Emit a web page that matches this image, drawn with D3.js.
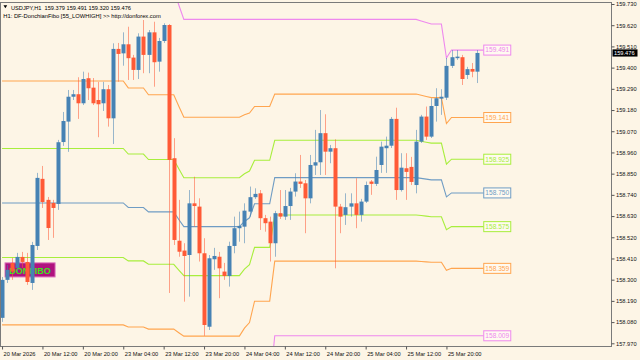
<!DOCTYPE html>
<html><head><meta charset="utf-8">
<script src="https://cdn.jsdelivr.net/npm/d3@7"></script>
<style>html,body{margin:0;padding:0;background:#fdf5e6;} svg{display:block;} text{font-family:"Liberation Sans",Arial,sans-serif;}</style>
</head><body><svg id="c" width="640" height="360"></svg>
<script>
// ---- DATA (USDJPY H1, bars 20 Mar 04:00 .. 26 Mar 02:00) ----
const symbol = "USDJPY,H1";
const indicatorTitle = "H1: DF-DonchianFibo [55_LOWHIGH] >> http://donforex.com";
const badgeText = "DONFIBO";
const opens = [158.102,158.299,158.387,158.361,158.418,158.392,158.283,158.475,158.823,158.714,
158.698,158.693,159.014,159.120,159.249,159.262,159.215,159.345,159.296,159.232,
159.215,159.288,159.137,159.497,159.474,159.521,159.452,159.388,159.561,159.466,
159.583,159.431,159.538,159.621,158.930,158.502,158.451,158.428,158.696,158.679,
158.437,158.056,158.406,158.419,158.342,158.319,158.475,158.567,158.575,158.653,
158.728,158.748,158.619,158.601,158.489,158.645,158.627,158.682,158.757,158.809,
158.800,158.722,158.892,158.909,159.060,158.964,158.982,158.679,158.636,158.679,
158.696,158.636,158.705,158.809,158.797,158.895,158.982,158.995,159.134,158.765,
158.878,158.885,158.791,159.016,159.146,159.042,159.201,159.239,159.244,159.409,
159.449,159.454,159.362,159.393,159.379];
const highs = [158.314,158.376,158.413,158.439,158.444,158.439,158.496,158.854,158.890,158.729,
158.714,159.025,159.170,159.284,159.284,159.350,159.379,159.374,159.346,159.326,
159.326,159.310,159.526,159.528,159.583,159.612,159.466,159.578,159.647,159.595,
159.638,159.554,159.630,159.626,159.034,158.714,158.489,158.765,158.834,158.722,
158.515,158.428,158.465,158.444,158.387,158.497,158.627,158.653,158.696,158.783,
158.774,158.765,158.636,158.627,158.657,158.765,158.765,158.776,158.852,158.947,
158.817,158.947,159.077,159.180,159.158,158.999,159.028,158.693,158.748,158.748,
158.826,158.719,158.809,158.817,158.938,159.016,159.042,159.144,159.192,158.956,
158.956,158.937,159.077,159.155,159.198,159.241,159.293,159.288,159.450,159.491,
159.491,159.466,159.404,159.424,159.491];
const lows = [158.081,158.283,158.299,158.340,158.361,158.273,158.247,158.454,158.672,158.506,
158.517,158.662,158.994,158.963,159.232,159.134,159.206,159.232,159.206,159.039,
159.175,159.094,159.004,159.327,159.410,159.336,159.336,159.341,159.371,159.371,
159.301,159.379,159.528,158.231,158.480,158.419,158.186,158.212,158.575,158.394,
158.009,158.039,158.351,158.204,158.299,158.264,158.437,158.497,158.489,158.627,
158.719,158.558,158.549,158.394,158.419,158.615,158.610,158.610,158.731,158.776,
158.541,158.696,158.843,158.843,158.843,158.904,158.359,158.541,158.584,158.627,
158.567,158.601,158.698,158.740,158.786,158.854,158.854,158.983,158.714,158.757,
158.714,158.791,158.748,159.009,159.025,159.035,159.120,159.155,159.232,159.398,
159.440,159.310,159.341,159.350,159.320];
const closes = [158.299,158.351,158.342,158.418,158.392,158.288,158.480,158.828,158.703,158.568,
158.672,159.013,159.123,159.249,159.262,159.215,159.341,159.293,159.215,159.210,
159.288,159.137,159.497,159.471,159.521,159.449,159.388,159.561,159.466,159.583,
159.428,159.538,159.621,158.921,158.506,158.445,158.423,158.696,158.682,158.437,
158.065,158.411,158.423,158.359,158.319,158.475,158.567,158.579,158.658,158.728,
158.745,158.619,158.593,158.489,158.645,158.627,158.682,158.757,158.809,158.797,
158.722,158.895,158.909,159.060,158.964,158.982,158.679,158.627,158.676,158.696,
158.636,158.705,158.791,158.797,158.869,158.990,158.995,159.134,158.765,158.881,
158.859,158.807,159.016,159.146,159.042,159.201,159.241,159.249,159.409,159.454,
159.457,159.341,159.392,159.379,159.476];
// Donchian(55) channel high / low per bar, read from the drawn levels
const donHigh = [159.896,159.896,159.896,159.896,159.896,159.896,159.896,159.896,159.896,159.896,
159.896,159.896,159.896,159.896,159.896,159.896,159.896,159.896,159.896,159.896,
159.896,159.896,159.896,159.896,159.896,159.849,159.849,159.849,159.849,159.803,
159.803,159.803,159.803,159.803,159.803,159.725,159.650,159.650,159.650,159.650,
159.650,159.650,159.650,159.650,159.650,159.650,159.650,159.650,159.650,159.650,
159.650,159.650,159.650,159.650,159.650,159.650,159.650,159.650,159.650,159.650,
159.650,159.650,159.650,159.650,159.650,159.650,159.650,159.650,159.650,159.650,
159.650,159.650,159.650,159.650,159.650,159.650,159.650,159.650,159.650,159.650,
159.650,159.650,159.650,159.642,159.634,159.626,159.626,159.626,159.450,159.491,
159.491,159.491,159.491,159.491,159.491];
const donLow = [157.500,157.500,157.500,157.500,157.500,157.500,157.500,157.500,157.500,157.500,
157.500,157.500,157.500,157.500,157.500,157.500,157.500,157.500,157.500,157.500,
157.500,157.500,157.500,157.500,157.500,157.500,157.500,157.500,157.500,157.500,
157.500,157.500,157.500,157.500,157.500,157.500,157.500,157.500,157.500,157.500,
157.500,157.500,157.500,157.500,157.500,157.500,157.500,157.500,157.554,157.592,
157.737,157.737,157.737,157.737,158.009,158.009,158.009,158.009,158.009,158.009,
158.009,158.009,158.009,158.009,158.009,158.009,158.009,158.009,158.009,158.009,
158.009,158.009,158.009,158.009,158.009,158.009,158.009,158.009,158.009,158.009,
158.009,158.009,158.009,158.009,158.009,158.009,158.009,158.009,158.009,158.009,
158.009,158.009,158.009,158.009,158.009];
const fibRatios = [0, 0.236, 0.382, 0.5, 0.618, 0.764, 1];
const priceTicks = [159.730,159.620,159.510,159.400,159.290,159.180,159.070,158.960,158.850,158.740,158.630,158.520,158.410,158.300,158.190,158.080,157.970];
const timeTickBars = [0,8,16,24,32,40,48,56,64,72,80,88];
const timeTickLabels = ["20 Mar 2026","20 Mar 12:00","20 Mar 20:00","23 Mar 04:00","23 Mar 12:00","23 Mar 20:00","24 Mar 04:00","24 Mar 12:00","24 Mar 20:00","25 Mar 04:00","25 Mar 12:00","25 Mar 20:00"];

// ---- STYLE ----
const fibColors = ["#ee88ee","#ffa54f","#a8ee3c","#6f9cc4","#a8ee3c","#ffa54f","#ee88ee"];
const upColor = "#4682b4", downColor = "#ff5a36";
const bg = "#fdf5e6";
const fs = 5.7;

const svg = d3.select("#c");
svg.append("rect").attr("width",640).attr("height",360).attr("fill",bg);

const n = opens.length;
const x = d3.scaleLinear().domain([0, n-1]).range([2.05, 476.75]);
const y = d3.scaleLinear().domain([157.970, 159.730]).range([343.3, 4]);
const plotR = 611.5, plotB = 346.5, plotT = 2.5, plotL = 0.5;

svg.append("defs").append("clipPath").attr("id","clip")
  .append("rect").attr("x",1).attr("y",3).attr("width",610).attr("height",343);
const g = svg.append("g").attr("clip-path","url(#clip)");

const bars = d3.range(n);
const labelX = x(n-1) + 7;

// Fibonacci levels of the Donchian channel
const levels = fibRatios.map(f => bars.map(i => donHigh[i] - f*(donHigh[i]-donLow[i])));
const line = d3.line();
levels.forEach((lv,k) => {
  const pts = bars.map(i => [x(i), y(lv[i])]);
  pts.push([labelX, y(lv[n-1])]);
  g.append("path").attr("d", line(pts)).attr("fill","none")
    .attr("stroke", fibColors[k]).attr("stroke-width",1.1);
});

// badge
const bx = x(0)+3, bw = 50;
svg.append("rect").attr("x",bx).attr("y",y(158.387)).attr("width",bw).attr("height",14)
  .attr("fill","#b0127e").attr("stroke","#d868b8").attr("stroke-width",1);
svg.append("text").attr("x",bx+bw/2).attr("y",y(158.387)+11).attr("text-anchor","middle")
  .attr("font-size",9).attr("font-weight","bold").attr("fill","#38e818").text(badgeText);

// candles
const cg = svg.append("g").attr("clip-path","url(#clip)");
const cx = i => Math.round(x(i)) + 0.5;
cg.selectAll("line.wick").data(bars).join("line").attr("class","wick")
  .attr("x1",cx).attr("x2",cx)
  .attr("y1",i=>y(highs[i])).attr("y2",i=>y(lows[i]))
  .attr("stroke",i=>closes[i]>=opens[i]?upColor:downColor)
  .attr("stroke-opacity",0.55).attr("stroke-width",1);
cg.selectAll("rect.body").data(bars).join("rect").attr("class","body")
  .attr("x",i=>cx(i)-2).attr("width",4)
  .attr("y",i=>y(Math.max(opens[i],closes[i])))
  .attr("height",i=>Math.max(1.5, y(Math.min(opens[i],closes[i]))-y(Math.max(opens[i],closes[i]))))
  .attr("fill",i=>closes[i]>=opens[i]?upColor:downColor);

// level labels
levels.forEach((lv,k) => {
  const v = lv[n-1], yy = y(v);
  svg.append("rect").attr("x",labelX).attr("y",yy-5).attr("width",27).attr("height",10)
    .attr("fill","#fffaf0").attr("stroke",fibColors[k]).attr("stroke-width",1);
  svg.append("text").attr("x",labelX+13.5).attr("y",yy+2.3).attr("text-anchor","middle")
    .attr("font-size",6.6).attr("fill",fibColors[k]).text(v.toFixed(3));
});

// frame
svg.append("rect").attr("x",plotL).attr("y",plotT).attr("width",plotR-plotL).attr("height",plotB-plotT)
  .attr("fill","none").attr("stroke","#7a7a7a").attr("stroke-width",1);

// right axis
const ya = svg.append("g").attr("transform",`translate(${plotR},0)`)
  .call(d3.axisRight(y).tickValues(priceTicks).tickSize(3).tickPadding(1.5).tickFormat(d=>d.toFixed(3)));
ya.select(".domain").remove();
ya.selectAll("line").attr("stroke","#555");
ya.selectAll("text").attr("font-size",fs).attr("fill","#111").attr("font-family","Liberation Sans, Arial, sans-serif");

// bottom axis
const xa = svg.append("g").attr("transform",`translate(0,${plotB})`)
  .call(d3.axisBottom(x).tickValues(timeTickBars).tickSize(3).tickPadding(2).tickFormat((d,i)=>timeTickLabels[i]));
xa.select(".domain").remove();
xa.selectAll("line").attr("stroke","#555");
xa.selectAll("text").attr("font-size",fs).attr("fill","#111").attr("text-anchor","start").attr("dx",1)
  .attr("font-family","Liberation Sans, Arial, sans-serif");

// current price tag
const last = closes[n-1];
svg.append("rect").attr("x",plotR+1).attr("y",y(last)-3.6).attr("width",25).attr("height",7.2).attr("fill","#000");
svg.append("text").attr("x",plotR+2.5).attr("y",y(last)+2).attr("font-size",fs).attr("fill","#fff").text(last.toFixed(3));

// header
svg.append("path").attr("d","M3.5,5.3 L7.2,5.3 L5.35,8.3 Z").attr("fill","#000");
const hdr1 = `${symbol}  ${opens[n-1].toFixed(3)} ${highs[n-1].toFixed(3)} ${lows[n-1].toFixed(3)} ${closes[n-1].toFixed(3)}`;
svg.append("text").attr("x",11).attr("y",10).attr("font-size",6.2).attr("fill","#000")
  .style("white-space","pre").attr("textLength",120).attr("lengthAdjust","spacingAndGlyphs").text(hdr1);
svg.append("text").attr("x",3.3).attr("y",18).attr("font-size",6.2).attr("fill","#000")
  .attr("textLength",157.5).attr("lengthAdjust","spacingAndGlyphs").text(indicatorTitle);
</script></body></html>
